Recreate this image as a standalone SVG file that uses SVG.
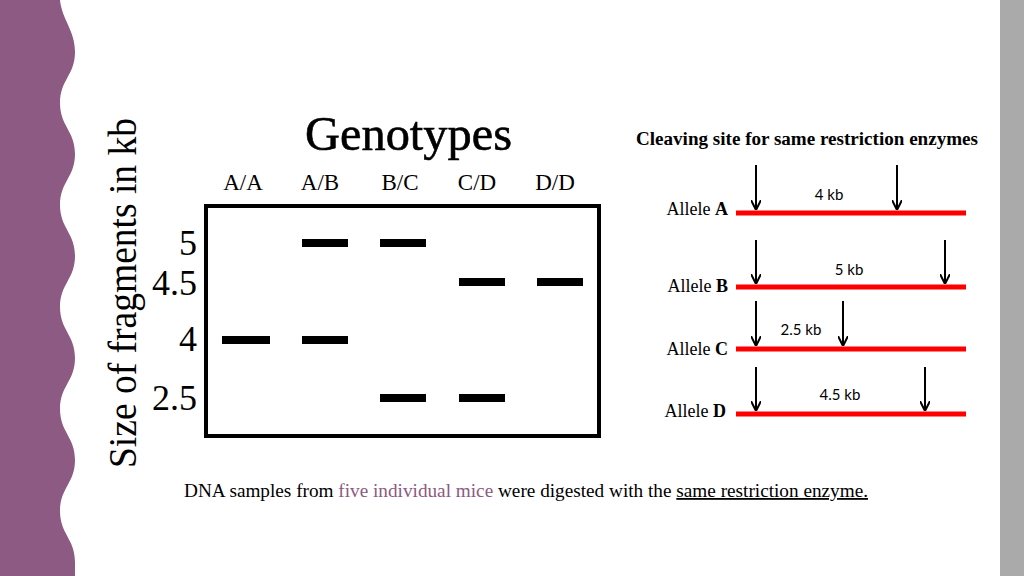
<svg xmlns="http://www.w3.org/2000/svg" width="1024" height="576" viewBox="0 0 1024 576">
<defs>
<style>
.s{font-family:"Liberation Serif",serif;fill:#000}
.k{font-family:"Lato","Liberation Sans",sans-serif;font-size:15px;fill:#000}
.band{fill:#000}
.red{stroke:#ff0000;stroke-width:5}
.arr{stroke:#000;stroke-width:2;fill:none}
</style>
<marker id="ah" viewBox="0 0 10 10" refX="9" refY="5" markerWidth="5" markerHeight="5" orient="auto"><path d="M0,0 L10,5 L0,10" fill="none" stroke="#000" stroke-width="2"/></marker>
</defs>
<rect width="1024" height="576" fill="#fff"/>
<path d="M0,0 H60 C62,20 75,30 75,52 C75,75 60,80 60,103 C60,126 75,131 75,154 C75,177 60,182 60,205 C60,228 75,233 75,256 C75,279 60,284 60,307 C60,330 75,335 75,358 C75,381 60,386 60,409 C60,432 75,437 75,460 C75,483 60,488 60,511 C60,534 75,539 75,562 L75,576 H0 Z" fill="#8c5a82"/>
<rect x="1000" y="0" width="24" height="576" fill="#aaaaaa"/>
<g id="gel">
<text class="s" x="305" y="150" font-size="48" textLength="207" lengthAdjust="spacingAndGlyphs" stroke="#000" stroke-width="0.6">Genotypes</text>
<text class="s" transform="translate(136,468) rotate(-90)" font-size="39" textLength="350" lengthAdjust="spacingAndGlyphs">Size of fragments in kb</text>
<g font-size="23" text-anchor="middle"><text class="s" x="243" y="190">A/A</text><text class="s" x="320" y="190">A/B</text><text class="s" x="400" y="190">B/C</text><text class="s" x="477" y="190">C/D</text><text class="s" x="555" y="190">D/D</text></g>
<g font-size="36" text-anchor="end"><text class="s" x="197" y="255">5</text><text class="s" x="197" y="295">4.5</text><text class="s" x="197" y="351">4</text><text class="s" x="197" y="410">2.5</text></g>
<rect x="206" y="206" width="393" height="230" fill="none" stroke="#000" stroke-width="4"/>
<rect class="band" x="302" y="239" width="46" height="8"/><rect class="band" x="380" y="239" width="46" height="8"/>
<rect class="band" x="459" y="278" width="46" height="8"/><rect class="band" x="537" y="278" width="46" height="8"/>
<rect class="band" x="222" y="336" width="48" height="8"/><rect class="band" x="302" y="336" width="46" height="8"/>
<rect class="band" x="380" y="394" width="46" height="8"/><rect class="band" x="459" y="394" width="46" height="8"/>
</g>
<g id="alleles">
<text class="s" x="636" y="145" font-size="18" font-weight="bold" textLength="342" lengthAdjust="spacingAndGlyphs">Cleaving site for same restriction enzymes</text>
<g font-size="18" text-anchor="end">
<text class="s" x="728" y="215">Allele <tspan font-weight="bold">A</tspan></text>
<text class="s" x="728" y="292">Allele <tspan font-weight="bold">B</tspan></text>
<text class="s" x="728" y="355">Allele <tspan font-weight="bold">C</tspan></text>
<text class="s" x="726" y="417">Allele <tspan font-weight="bold">D</tspan></text>
</g>
<line class="red" x1="736" y1="213" x2="966" y2="213"/>
<line class="red" x1="736" y1="287" x2="966" y2="287"/>
<line class="red" x1="736" y1="349" x2="966" y2="349"/>
<line class="red" x1="736" y1="414" x2="966" y2="414"/>
<text class="k" x="829" y="200" text-anchor="middle">4 kb</text>
<text class="k" x="849" y="275" text-anchor="middle">5 kb</text>
<text class="k" x="801" y="335" text-anchor="middle">2.5 kb</text>
<text class="k" x="840" y="400" text-anchor="middle">4.5 kb</text>
</g>
<g id="connectors">
<line class="arr" x1="756" y1="165" x2="756" y2="209" marker-end="url(#ah)"/>
<line class="arr" x1="897" y1="165" x2="897" y2="209" marker-end="url(#ah)"/>
<line class="arr" x1="756" y1="240" x2="756" y2="283" marker-end="url(#ah)"/>
<line class="arr" x1="945" y1="240" x2="945" y2="283" marker-end="url(#ah)"/>
<line class="arr" x1="756" y1="301" x2="756" y2="345" marker-end="url(#ah)"/>
<line class="arr" x1="843" y1="301" x2="843" y2="345" marker-end="url(#ah)"/>
<line class="arr" x1="756" y1="367" x2="756" y2="410" marker-end="url(#ah)"/>
<line class="arr" x1="925" y1="367" x2="925" y2="410" marker-end="url(#ah)"/>
</g>
<text class="s" x="184" y="497" font-size="18" textLength="684" lengthAdjust="spacingAndGlyphs">DNA samples from <tspan fill="#8c5a82">five individual mice</tspan> were digested with the <tspan text-decoration="underline">same restriction enzyme.</tspan></text>
</svg>
